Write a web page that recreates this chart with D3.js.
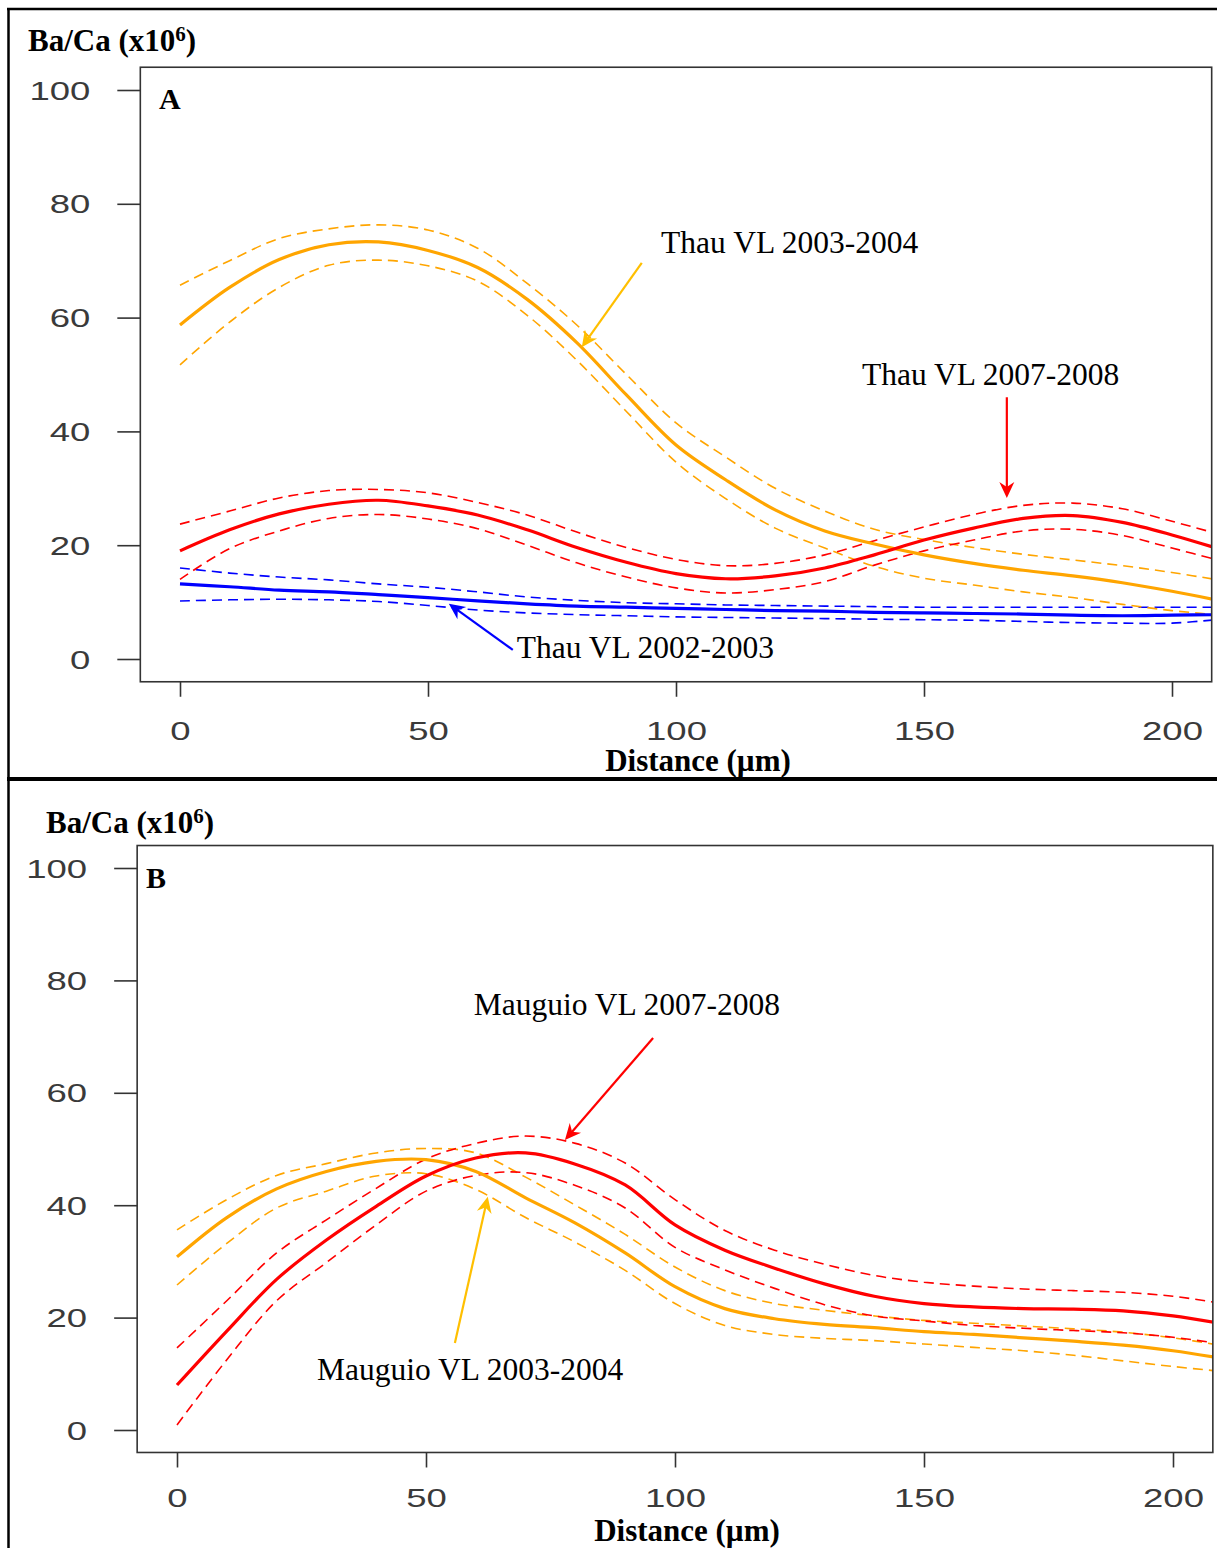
<!DOCTYPE html>
<html>
<head>
<meta charset="utf-8">
<script src="https://cdn.jsdelivr.net/npm/d3@7"></script>
<style>
  html, body { margin: 0; padding: 0; background: #fff; }
  svg { display: block; }
</style>
</head>
<body>
<svg id="fig" width="1217" height="1548"></svg>
<script>
// Distance along the otolith transect (µm)
const distance = [0, 10, 20, 30, 40, 50, 60, 70, 80, 90, 100, 110, 120, 130, 140, 150, 160, 170, 180, 190, 200, 210];

const xTicks = [0, 50, 100, 150, 200];
const yTicks = [0, 20, 40, 60, 80, 100];

// Panel A — Thau, smoothed Ba/Ca (x10^6) with confidence bands
const thau0304Fit = [58.7, 65.3, 70.2, 72.8, 73.3, 71.8, 68.8, 63.2, 55.6, 46.4, 37.6, 31.5, 26.2, 22.5, 20.2, 18.3, 16.8, 15.6, 14.6, 13.4, 11.9, 10.2];
const thau0304Hi  = [65.7, 70.0, 73.9, 75.6, 76.3, 75.4, 72.2, 66.0, 58.7, 50.0, 41.5, 35.5, 30.0, 26.0, 22.8, 21.0, 19.6, 18.4, 17.4, 16.4, 15.2, 13.8];
const thau0304Lo  = [51.7, 59.2, 65.3, 69.2, 70.1, 69.1, 66.4, 60.4, 52.5, 43.5, 34.6, 28.2, 23.0, 19.5, 16.3, 14.2, 13.0, 11.8, 10.8, 9.6, 8.5, 7.7];

const thau0708Fit = [19.0, 22.7, 25.5, 27.2, 27.9, 26.9, 25.3, 22.7, 19.6, 17.0, 15.0, 14.1, 14.6, 16.0, 18.3, 20.9, 23.0, 24.7, 25.2, 24.0, 21.8, 19.2];
const thau0708Hi  = [23.7, 26.0, 28.3, 29.6, 29.8, 29.2, 27.5, 25.3, 22.3, 19.6, 17.5, 16.4, 16.8, 18.3, 20.8, 23.2, 25.4, 27.0, 27.4, 26.4, 24.2, 21.8];
const thau0708Lo  = [14.0, 19.4, 22.5, 24.7, 25.4, 24.6, 22.9, 20.0, 16.9, 14.4, 12.5, 11.6, 12.2, 13.6, 16.5, 19.0, 20.9, 22.5, 22.8, 21.7, 19.5, 17.2];

const thau0203Fit = [13.2, 12.7, 12.1, 11.8, 11.3, 10.8, 10.2, 9.7, 9.3, 9.1, 8.9, 8.7, 8.5, 8.4, 8.2, 8.1, 8.0, 7.9, 7.7, 7.6, 7.7, 7.8];
const thau0203Hi  = [16.0, 15.1, 14.4, 13.9, 13.2, 12.6, 11.8, 10.9, 10.3, 9.9, 9.7, 9.5, 9.4, 9.3, 9.2, 9.1, 9.1, 9.1, 9.1, 9.1, 9.1, 9.1];
const thau0203Lo  = [10.2, 10.4, 10.5, 10.4, 10.1, 9.4, 8.6, 8.1, 7.8, 7.6, 7.4, 7.3, 7.2, 7.1, 7.0, 6.9, 6.8, 6.6, 6.4, 6.3, 6.3, 7.0];

// Panel B — Mauguio
const maug0304Fit = [30.8, 37.8, 42.9, 46.0, 47.8, 48.1, 46.0, 41.3, 36.8, 31.5, 25.5, 21.6, 19.8, 18.8, 18.2, 17.5, 17.0, 16.4, 15.8, 15.1, 14.1, 12.7];
const maug0304Hi  = [35.6, 41.0, 45.3, 47.4, 49.3, 50.1, 49.3, 45.0, 40.0, 34.8, 29.0, 24.8, 22.5, 21.3, 20.3, 19.5, 19.0, 18.5, 18.0, 17.4, 16.4, 15.0];
const maug0304Lo  = [25.8, 33.2, 39.5, 42.5, 45.2, 45.6, 42.8, 37.8, 33.4, 28.4, 22.5, 18.6, 17.0, 16.3, 15.9, 15.3, 14.7, 14.1, 13.3, 12.3, 11.3, 10.4];

const maug0708Fit = [8.0, 17.6, 26.8, 33.8, 39.8, 45.2, 48.4, 49.3, 47.3, 43.6, 36.5, 32.0, 28.8, 26.0, 23.8, 22.5, 21.9, 21.6, 21.5, 21.2, 20.3, 18.9];
const maug0708Hi  = [14.6, 23.0, 31.5, 37.4, 43.0, 48.2, 51.0, 52.3, 51.0, 47.5, 41.0, 35.5, 32.0, 29.5, 27.5, 26.3, 25.6, 25.1, 24.8, 24.5, 23.8, 22.5];
const maug0708Lo  = [0.9, 12.5, 23.0, 29.8, 36.5, 42.5, 45.3, 45.8, 43.5, 39.5, 32.5, 28.5, 25.2, 22.3, 20.3, 19.4, 18.6, 18.1, 17.7, 17.3, 16.5, 15.3];

// Series colours
const cOrange = "#FFA500", cRed = "#FF0000", cBlue = "#0000FF";

const svg = d3.select("#fig");

// Outer figure frame and panel separator
svg.append("line").attr("x1", 7).attr("x2", 1217).attr("y1", 9).attr("y2", 9)
  .attr("stroke", "#000").attr("stroke-width", 2.5);
svg.append("line").attr("x1", 8.5).attr("x2", 8.5).attr("y1", 8).attr("y2", 1548)
  .attr("stroke", "#000").attr("stroke-width", 2.5);
svg.append("line").attr("x1", 7).attr("x2", 1217).attr("y1", 779).attr("y2", 779)
  .attr("stroke", "#000").attr("stroke-width", 4);

function arrowPath(x1, y1, x2, y2) {
  const a = Math.atan2(y2 - y1, x2 - x1);
  const L = 16, W = 7.5, N = 11;
  const ux = Math.cos(a), uy = Math.sin(a);
  const px = -uy, py = ux;
  const bx = x2 - ux * L, by = y2 - uy * L;
  const nx = x2 - ux * N, ny = y2 - uy * N;
  return `M${x2},${y2}L${bx + px * W},${by + py * W}L${nx},${ny}L${bx - px * W},${by - py * W}Z`;
}

function drawPanel(p) {
  const g = svg.append("g");
  const x = d3.scaleLinear().domain([0, 200]).range(p.xRange);
  const y = d3.scaleLinear().domain([0, 100]).range(p.yRange);
  const x0 = x(-8), x1 = x(208), y0 = y(-4), y1 = y(104);

  // y-axis title with superscript
  const t = g.append("text").attr("x", p.titlePos[0]).attr("y", p.titlePos[1])
    .attr("font-family", "'Liberation Serif', 'Times New Roman', serif")
    .attr("font-weight", "bold").attr("font-size", 31).attr("fill", "#000")
    .text("Ba/Ca (x10");
  t.append("tspan").attr("dy", -10).attr("font-size", 21).text("6");
  t.append("tspan").attr("dy", 10).text(")");

  // clip region for the curves
  const clipId = "clip-" + p.id;
  g.append("clipPath").attr("id", clipId).append("rect")
    .attr("x", x0).attr("y", y1).attr("width", x1 - x0).attr("height", y0 - y1);

  const line = d3.line().x((d, i) => x(distance[i])).y(d => y(d)).curve(d3.curveCatmullRom.alpha(0.5));

  const curves = g.append("g").attr("clip-path", `url(#${clipId})`);
  p.series.forEach(s => {
    [s.hi, s.lo].forEach(arr => {
      curves.append("path").attr("d", line(arr)).attr("fill", "none")
        .attr("stroke", s.color).attr("stroke-width", 1.6).attr("stroke-dasharray", "10,6");
    });
  });
  p.series.forEach(s => {
    curves.append("path").attr("d", line(s.fit)).attr("fill", "none")
      .attr("stroke", s.color).attr("stroke-width", 3.2).attr("stroke-linejoin", "round");
  });

  // box
  g.append("rect").attr("x", x0).attr("y", y1).attr("width", x1 - x0).attr("height", y0 - y1)
    .attr("fill", "none").attr("stroke", "#333").attr("stroke-width", 1.6);

  // axes
  const axL = g.append("g").attr("transform", `translate(${x0},0)`)
    .call(d3.axisLeft(y).tickValues(yTicks).tickSize(23).tickPadding(27));
  const axB = g.append("g").attr("transform", `translate(0,${y0})`)
    .call(d3.axisBottom(x).tickValues(xTicks).tickSize(15).tickPadding(p.xPad));
  [axL, axB].forEach(ax => {
    ax.select(".domain").remove();
    ax.selectAll(".tick line").attr("stroke", "#333").attr("stroke-width", 1.6);
    ax.selectAll(".tick text")
      .attr("font-family", "'Liberation Sans', Arial, sans-serif")
      .attr("font-size", 25).attr("fill", "#3a3a3a")
      .attr("textLength", d => String(d).length * 20.3)
      .attr("lengthAdjust", "spacingAndGlyphs");
  });
  axL.selectAll(".tick text").attr("dy", "0.36em");

  // x-axis title
  g.append("text").attr("x", p.xlabPos[0]).attr("y", p.xlabPos[1])
    .attr("text-anchor", "middle")
    .attr("font-family", "'Liberation Serif', 'Times New Roman', serif")
    .attr("font-weight", "bold").attr("font-size", 31).attr("fill", "#000")
    .text("Distance (µm)");

  // panel letter
  g.append("text").attr("x", p.letterPos[0]).attr("y", p.letterPos[1])
    .attr("font-family", "'Liberation Serif', 'Times New Roman', serif")
    .attr("font-weight", "bold").attr("font-size", 30).attr("fill", "#000")
    .text(p.letter);

  // series annotations
  p.notes.forEach(n => {
    g.append("text").attr("x", x(n.text[0])).attr("y", y(n.text[1]))
      .attr("font-family", "'Liberation Serif', 'Times New Roman', serif")
      .attr("font-size", 31.5).attr("fill", "#000").text(n.label);
    const ax1 = x(n.from[0]), ay1 = y(n.from[1]), ax2 = x(n.to[0]), ay2 = y(n.to[1]);
    const ang = Math.atan2(ay2 - ay1, ax2 - ax1);
    g.append("line").attr("x1", ax1).attr("y1", ay1)
      .attr("x2", ax2 - Math.cos(ang) * 10).attr("y2", ay2 - Math.sin(ang) * 10)
      .attr("stroke", n.color).attr("stroke-width", 2.2);
    g.append("path").attr("d", arrowPath(ax1, ay1, ax2, ay2)).attr("fill", n.color);
  });
}

drawPanel({
  id: "A", letter: "A",
  xRange: [180, 1172], yRange: [659, 90], xPad: 25,
  titlePos: [28, 51], xlabPos: [698, 771], letterPos: [159, 109],
  series: [
    { color: cBlue, fit: thau0203Fit, hi: thau0203Hi, lo: thau0203Lo },
    { color: cOrange, fit: thau0304Fit, hi: thau0304Hi, lo: thau0304Lo },
    { color: cRed, fit: thau0708Fit, hi: thau0708Hi, lo: thau0708Lo }
  ],
  notes: [
    { label: "Thau VL 2003-2004", text: [97.0, 71.4], from: [93.1, 69.6], to: [81.0, 54.8], color: "#FFBF00" },
    { label: "Thau VL 2007-2008", text: [137.5, 48.2], from: [166.7, 46.0], to: [166.7, 28.3], color: "#FF0000" },
    { label: "Thau VL 2002-2003", text: [67.9, 0.2], from: [67.1, 1.6], to: [54.2, 9.7], color: "#0000FF" }
  ]
});

drawPanel({
  id: "B", letter: "B",
  xRange: [177, 1173], yRange: [1430, 868], xPad: 22,
  titlePos: [46, 833], xlabPos: [687, 1541], letterPos: [146, 888],
  series: [
    { color: cOrange, fit: maug0304Fit, hi: maug0304Hi, lo: maug0304Lo },
    { color: cRed, fit: maug0708Fit, hi: maug0708Hi, lo: maug0708Lo }
  ],
  notes: [
    { label: "Mauguio VL 2007-2008", text: [59.6, 73.8], from: [95.6, 69.75], to: [77.9, 51.6], color: "#FF0000" },
    { label: "Mauguio VL 2003-2004", text: [28.1, 8.9], from: [55.8, 15.5], to: [62.4, 41.5], color: "#FFBF00" }
  ]
});
</script>
</body>
</html>
